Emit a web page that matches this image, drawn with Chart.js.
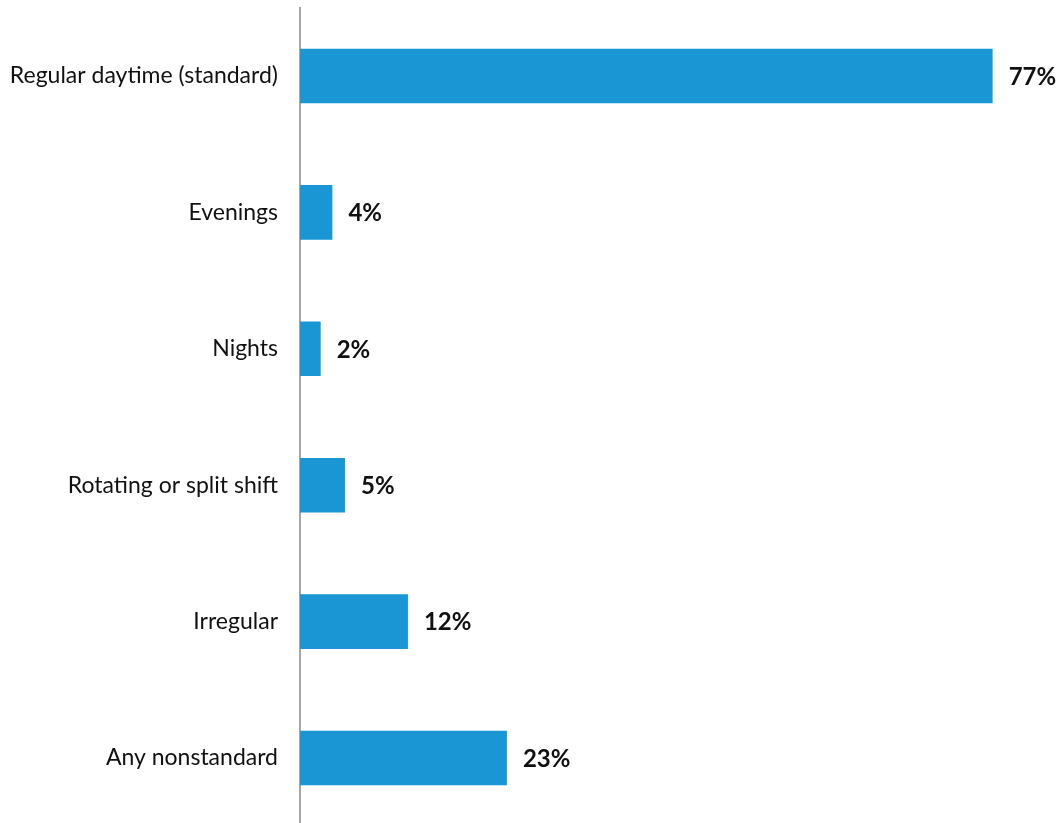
<!DOCTYPE html>
<html>
<head>
<meta charset="utf-8">
<script src="https://cdn.jsdelivr.net/npm/chart.js@4"></script>
<style>
  html, body { margin: 0; padding: 0; background: #fff; overflow: hidden; }
  #wrap { position: relative; width: 1061px; height: 874px; margin-top: -20px; }
</style>
</head>
<body>
<div id="wrap"><canvas id="shiftChart"></canvas></div>
<script>
const categories = ["Regular daytime (standard)", "Evenings", "Nights", "Rotating or split shift", "Irregular", "Any nonstandard"];
const shares = [77, 3.6, 2.3, 5, 12, 23];

// value labels drawn to the right of each bar
const barLabels = {
    id: "barLabels",
    afterDatasetsDraw(chart) {
        const ctx = chart.ctx;
        const meta = chart.getDatasetMeta(0);
        ctx.save();
        ctx.font = "bold 24px Lato";
        ctx.fillStyle = "#111";
        ctx.textBaseline = "middle";
        ctx.textAlign = "left";
        meta.data.forEach((bar, i) => {
            ctx.fillText(Math.round(shares[i]) + "%", bar.x + 16, bar.y + 1);
        });
        ctx.restore();
    }
};

new Chart(document.getElementById("shiftChart"), {
    type: "bar",
    data: {
        labels: categories,
        datasets: [{
            data: shares,
            backgroundColor: "#1996d3",
            barPercentage: 0.4,
            categoryPercentage: 1
        }]
    },
    options: {
        indexAxis: "y",
        responsive: true,
        maintainAspectRatio: false,
        animation: false,
        layout: { padding: { top: 7, left: 0, right: 0, bottom: 0 } },
        plugins: {
            legend: { display: false },
            tooltip: { enabled: false }
        },
        scales: {
            x: {
                display: false,
                min: 0,
                max: 84.6
            },
            y: {
                grid: { display: false },
                border: { display: true, color: "#a6a6a6", width: 2 },
                ticks: {
                    color: "#111",
                    padding: 14,
                    font: { family: "Lato", size: 23 }
                },
                afterFit(scale) { scale.width = 300; }
            }
        }
    },
    plugins: [barLabels]
});
</script>
</body>
</html>
